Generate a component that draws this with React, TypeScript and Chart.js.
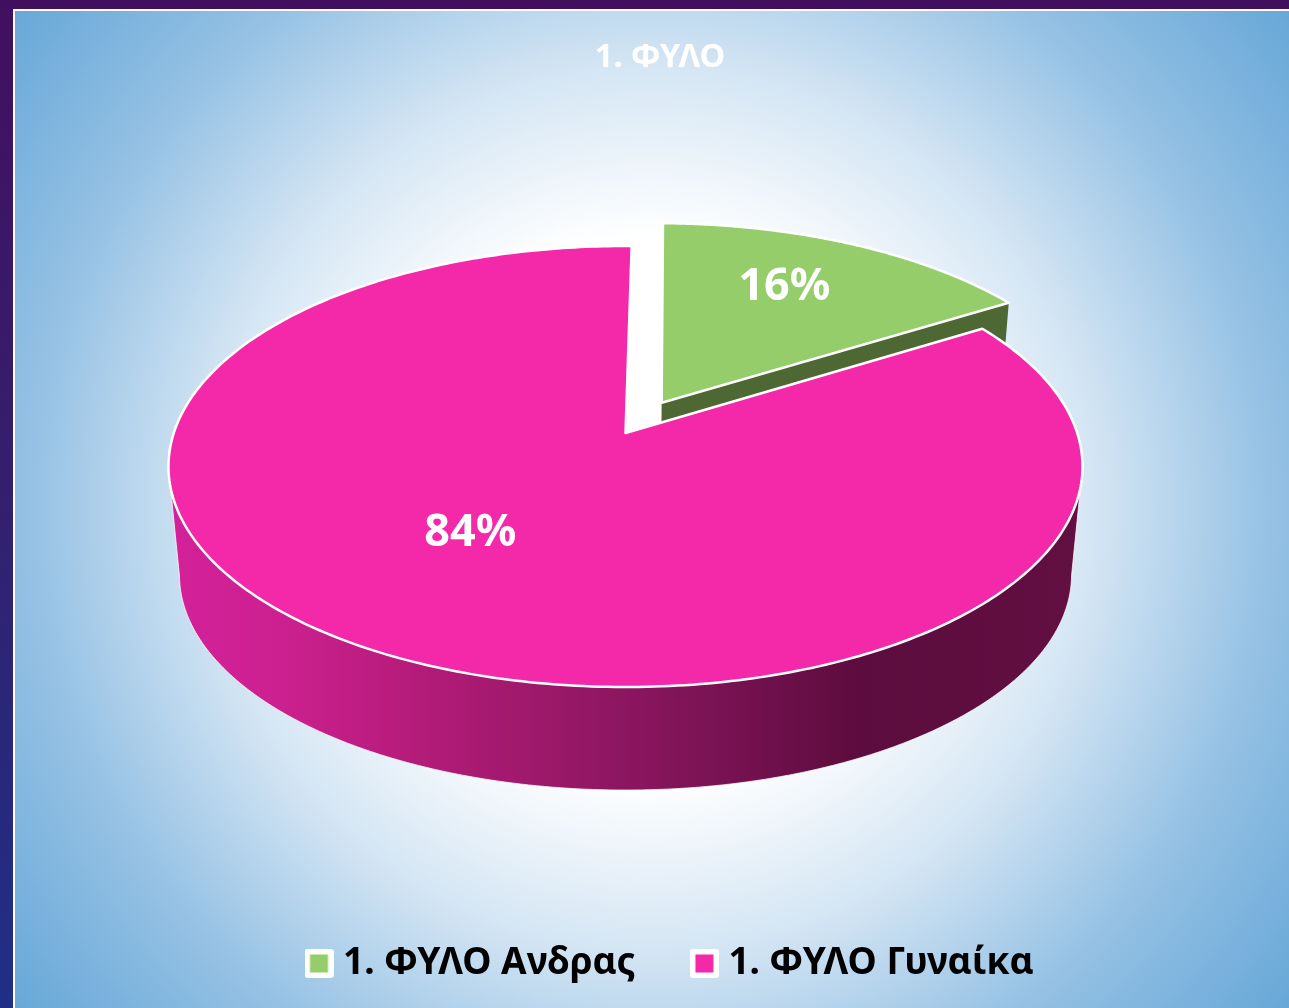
import React, { useEffect, useRef } from "react";
import { Chart, registerables } from "chart.js";

Chart.register(...registerables);

const categories = ["1. ΦΥΛΟ Ανδρας", "1. ΦΥΛΟ Γυναίκα"];
const percentValues = [16, 84];
const sliceColors = ["#94cd69", "#f329aa"];
const chartTitle = "1. ΦΥΛΟ";

const FONT = "'Noto Sans', sans-serif";
const W = 1289;
const H = 1008;

// Perspective model for the tilted disc
const P = { x0: 625.5, d: 451.7, a: 149.6, b: 433, c: -0.152, shrink: 0.976, drop: 119.5 };
const EXPLODE = [0.165, 0];
const LABEL_RADIUS = [0.7, 0.53];
const LABEL_SHIFT = [-0.047, 0.134];
const LABEL_DROP = 3;
const TITLE_NUDGE = 30;
const WALL_GREEN = "#4d6832";

function legendSwatch(color: string) {
  const c = document.createElement("canvas");
  c.width = 29;
  c.height = 29;
  const x = c.getContext("2d") as CanvasRenderingContext2D;
  x.fillStyle = "#ffffff";
  x.beginPath();
  x.roundRect(0, 0, 29, 29, 3);
  x.fill();
  x.fillStyle = color;
  x.fillRect(5.5, 5.5, 18, 18);
  return c;
}

function proj(u: number, v: number) {
  const k = 1 + P.c * v;
  return { x: P.x0 + (P.d * u) / k, y: (P.a * v + P.b) / k };
}
function below(p: { x: number; y: number }) {
  return { x: P.x0 + P.shrink * (p.x - P.x0), y: P.shrink * p.y + P.drop };
}

const pie3d = {
  id: "pie3d",
  afterLayout(chart: any) {
    if (chart.titleBlock) chart.titleBlock.left -= TITLE_NUDGE;
  },
  beforeDraw(chart: any) {
    const ctx = chart.ctx;
    ctx.save();
    const strip = ctx.createLinearGradient(0, 0, 0, H);
    strip.addColorStop(0, "#420f5f");
    strip.addColorStop(0.5, "#33206f");
    strip.addColorStop(1, "#1f2f87");
    ctx.fillStyle = strip;
    ctx.fillRect(0, 0, W, H);
    ctx.fillStyle = "#ffffff";
    ctx.fillRect(13, 9, W - 13, H - 9);
    const cx = 651;
    const cy = 508;
    const r = 805;
    const g = ctx.createRadialGradient(cx, cy, 0, cx, cy, r);
    g.addColorStop(0, "#ffffff");
    g.addColorStop(270 / r, "#ffffff");
    g.addColorStop(440 / r, "#d5e6f4");
    g.addColorStop(620 / r, "#95c1e4");
    g.addColorStop(1, "#68a8d8");
    ctx.fillStyle = g;
    ctx.fillRect(15, 11, W - 15, H - 11);
    ctx.restore();
  },
  beforeDatasetDraw(chart: any, args: any) {
    const ctx = chart.ctx;
    const meta = args.meta;
    const arcs = meta.data;
    const rad = Math.PI / 180;

    const paint = (i: number) => {
      const arc = arcs[i];
      const { startAngle, endAngle } = arc.getProps(["startAngle", "endAngle"], true);
      const mid = (startAngle + endAngle) / 2;
      const e = EXPLODE[i];
      const ou = e * Math.cos(mid);
      const ov = e * Math.sin(mid);
      const pt = (a: number, r = 1) => proj(ou + r * Math.cos(a), ov + r * Math.sin(a));
      const apex = pt(0, 0);
      const steps = 360;

      if (e > 0) {
        const rimEnd = pt(endAngle);
        const quad = [apex, rimEnd, below(rimEnd), below(apex)];
        ctx.beginPath();
        quad.forEach((q, n) => (n ? ctx.lineTo(q.x, q.y) : ctx.moveTo(q.x, q.y)));
        ctx.closePath();
        ctx.fillStyle = WALL_GREEN;
        ctx.fill();
      } else {
        const from = 9 * rad;
        const to = 171 * rad;
        const top: any[] = [];
        for (let k = 0; k <= steps; k++) top.push(pt(from + ((to - from) * k) / steps));
        const all = top.concat(top.map(below).reverse());
        ctx.beginPath();
        all.forEach((q, n) => (n ? ctx.lineTo(q.x, q.y) : ctx.moveTo(q.x, q.y)));
        ctx.closePath();
        const lg = ctx.createLinearGradient(168, 0, 1081, 0);
        lg.addColorStop(0, "#d3219a");
        lg.addColorStop(0.12, "#cc2090");
        lg.addColorStop(0.25, "#b81c7c");
        lg.addColorStop(0.5, "#8c1660");
        lg.addColorStop(0.76, "#5c0c3e");
        lg.addColorStop(1, "#620f42");
        ctx.fillStyle = lg;
        ctx.fill();
        ctx.lineWidth = 1;
        ctx.strokeStyle = "rgba(255,255,255,0.75)";
        ctx.stroke();
      }

      ctx.beginPath();
      ctx.moveTo(apex.x, apex.y);
      for (let k = 0; k <= steps; k++) {
        const q = pt(startAngle + ((endAngle - startAngle) * k) / steps);
        ctx.lineTo(q.x, q.y);
      }
      ctx.closePath();
      ctx.fillStyle = sliceColors[i];
      ctx.fill();
      ctx.lineWidth = 2.5;
      ctx.lineJoin = "round";
      ctx.strokeStyle = "#ffffff";
      ctx.stroke();
    };

    ctx.save();
    arcs.forEach((_: any, i: number) => paint(i));
    ctx.fillStyle = "#ffffff";
    ctx.font = `bold 45px ${FONT}`;
    ctx.textAlign = "center";
    ctx.textBaseline = "middle";
    arcs.forEach((arc: any, i: number) => {
      const { startAngle, endAngle } = arc.getProps(["startAngle", "endAngle"], true);
      const mid = (startAngle + endAngle) / 2;
      const e = EXPLODE[i];
      const r = e + LABEL_RADIUS[i];
      const p = proj(r * Math.cos(mid + LABEL_SHIFT[i]), r * Math.sin(mid + LABEL_SHIFT[i]));
      ctx.fillText(`${percentValues[i]}%`, p.x, p.y + LABEL_DROP);
    });
    ctx.restore();
    return false;
  },
};

export default function App() {
  const ref = useRef<HTMLCanvasElement>(null);
  useEffect(() => {
    const swatches = sliceColors.map(legendSwatch);
    const chart = new Chart(ref.current as HTMLCanvasElement, {
      type: "pie",
      data: {
        labels: categories,
        datasets: [{ data: percentValues, backgroundColor: sliceColors, borderColor: "#ffffff" }],
      },
      options: {
        responsive: false,
        animation: false,
        rotation: 0.9,
        layout: { padding: { left: 250, right: 189, top: 0, bottom: 16 } },
        plugins: {
          title: {
            display: true,
            text: chartTitle,
            color: "#ffffff",
            font: { family: FONT, weight: "bold", size: 32.5 },
            padding: { top: 38, bottom: 10 },
          },
          legend: {
            display: true,
            position: "bottom",
            align: "start",
            labels: {
              color: "#000000",
              usePointStyle: true,
              pointStyleWidth: 11,
              boxHeight: 29,
              padding: 63.5,
              font: { family: FONT, weight: "bold", size: 37 },
              generateLabels: () =>
                categories.map((text, i) => ({
                  text,
                  fillStyle: sliceColors[i],
                  strokeStyle: "#ffffff",
                  lineWidth: 0,
                  pointStyle: swatches[i],
                  index: i,
                  hidden: false,
                })),
            },
          },
          tooltip: { enabled: false },
        },
      },
      plugins: [pie3d],
    } as any);
    return () => chart.destroy();
  }, []);
  return (
    <canvas
      ref={ref}
      width={W}
      height={H}
      style={{ position: "fixed", left: 0, top: 0, width: W, height: H, display: "block" }}
    />
  );
}
